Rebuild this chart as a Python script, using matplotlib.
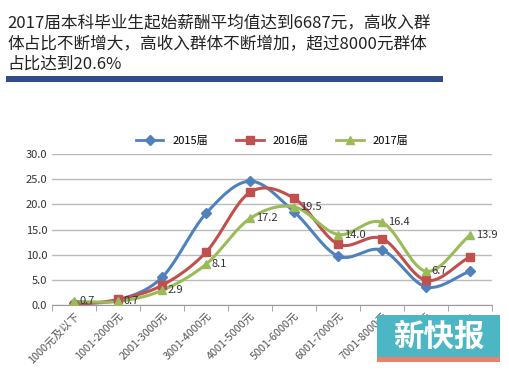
import numpy as np
import matplotlib.pyplot as plt
from matplotlib.patches import Rectangle

plt.rcParams['font.family'] = ['Noto Sans CJK SC', 'DejaVu Sans']

categories = ['1000元及以下', '1001-2000元', '2001-3000元', '3001-4000元', '4001-5000元',
              '5001-6000元', '6001-7000元', '7001-8000元', '8001-9000元', '9000元以上']
y2015 = [0.3, 1.0, 5.5, 18.2, 24.6, 18.5, 9.7, 10.9, 3.6, 6.7]
y2016 = [0.0, 1.1, 3.9, 10.5, 22.4, 21.2, 12.1, 13.2, 4.9, 9.6]
y2017 = [0.7, 0.7, 2.9, 8.1, 17.2, 19.5, 14.0, 16.4, 6.7, 13.9]
title = '2017届本科毕业生起始薪酬平均值达到6687元，高收入群\n体占比不断增大，高收入群体不断增加，超过8000元群体\n占比达到20.6%'


def smooth(x, y, n=20):
    # catmull-rom style curve like excel's smoothed line
    x = np.asarray(x, float); y = np.asarray(y, float)
    px = np.concatenate([[2 * x[0] - x[1]], x, [2 * x[-1] - x[-2]]])
    py = np.concatenate([[2 * y[0] - y[1]], y, [2 * y[-1] - y[-2]]])
    xs, ys = [], []
    for i in range(1, len(px) - 2):
        t = np.linspace(0, 1, n)
        for arr, out in ((px, xs), (py, ys)):
            p0, p1, p2, p3 = arr[i - 1], arr[i], arr[i + 1], arr[i + 2]
            out.extend(0.5 * (2 * p1 + (-p0 + p2) * t + (2 * p0 - 5 * p1 + 4 * p2 - p3) * t ** 2
                              + (-p0 + 3 * p1 - 3 * p2 + p3) * t ** 3))
    return xs, ys


fig = plt.figure(figsize=(5.1, 3.89), dpi=100)
fig.patch.set_facecolor('white')
fig.text(0.014, 0.962, title, fontsize=12, va='top', ha='left', color='#222222', linespacing=1.25)
fig.patches.append(Rectangle((0.012, 0.79), 0.857, 0.014, transform=fig.transFigure,
                             facecolor='#2E4D8A', edgecolor='none'))

ax = fig.add_axes([0.102, 0.216, 0.863, 0.388])
x = np.arange(len(categories))
series = [(y2015, '#4F81BD', 'D', 5, '2015届'),
          (y2016, '#C0504D', 's', 6, '2016届'),
          (y2017, '#9BBB59', '^', 6, '2017届')]
for vals, col, mk, ms, lab in series:
    sx, sy = smooth(x, vals)
    ax.plot(sx, sy, color=col, lw=2.2, zorder=3)
    ax.plot(x, vals, ls='none', marker=mk, ms=ms, color=col, zorder=4)
    ax.plot([], [], color=col, lw=2, marker=mk, ms=ms, label=lab)

for xi, v in zip(x, y2017):
    ax.text(xi + 0.13, v, f'{v:.1f}', fontsize=8, va='center', ha='left', color='#333333', zorder=5)

ax.set_xlim(-0.5, len(categories) - 0.5)
ax.set_ylim(0, 30)
ax.set_yticks(np.arange(0, 31, 5))
ax.set_yticklabels([f'{v:.1f}' for v in np.arange(0, 31, 5)], fontsize=8, color='#333333')
ax.set_xticks(x)
ax.set_xticklabels(categories, rotation=45, ha='right', rotation_mode='anchor', fontsize=7.8, color='#555555')
ax.tick_params(axis='x', length=0, pad=4)
ax.set_xticks(np.arange(-0.5, len(categories), 1), minor=True)
ax.tick_params(axis='x', which='minor', length=4, color='#999999')
ax.tick_params(axis='y', length=0)
ax.grid(axis='y', color='#BBBBBB', lw=1)
ax.set_axisbelow(True)
for s in ['top', 'right', 'left']:
    ax.spines[s].set_visible(False)
ax.spines['bottom'].set_color('#999999')
ax.legend(loc='lower center', bbox_to_anchor=(0.5, 1.0), ncol=3, frameon=False, fontsize=8,
          handlelength=2.5, columnspacing=2.5, borderaxespad=0.3)

# newspaper logo box in the lower right
fig.patches.append(Rectangle((0.739, 0.07), 0.242, 0.12, transform=fig.transFigure,
                             facecolor='#4DB6C4', edgecolor='none', zorder=10))
fig.patches.append(Rectangle((0.739, 0.07), 0.242, 0.012, transform=fig.transFigure,
                             facecolor='#E8826A', edgecolor='none', zorder=11))
fig.text(0.86, 0.135, '新快报', fontsize=22, color='white', ha='center', va='center',
         fontweight='bold', zorder=12)

fig.savefig('out.png', dpi=100, facecolor='white')
